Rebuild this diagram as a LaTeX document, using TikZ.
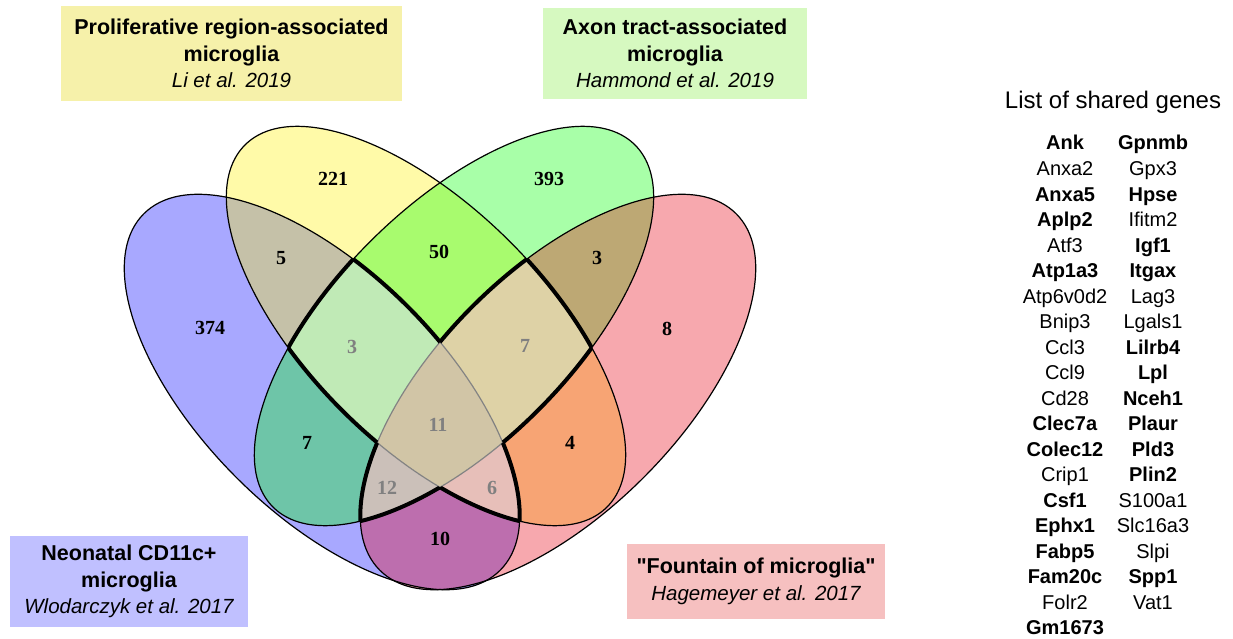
\documentclass[tikz,border=0pt]{standalone}
\usepackage{fontspec}
\setmainfont{Liberation Serif}
\setsansfont{Liberation Sans}

\definecolor{boxyellow}{RGB}{246,241,170}
\definecolor{boxgreen}{RGB}{214,249,192}
\definecolor{boxblue}{RGB}{192,192,255}
\definecolor{boxpink}{RGB}{246,192,192}
\definecolor{setred}{RGB}{232,0,18}

% one ellipse per data set (units are pixels)
\newcommand\ellBlue{[rotate around={-45:(322,392)}] (322,392) ellipse [x radius=252, y radius=121]}
\newcommand\ellYellow{[rotate around={-45:(426,326)}] (426,326) ellipse [x radius=256, y radius=119]}
\newcommand\ellGreen{[rotate around={45:(454,326)}] (454,326) ellipse [x radius=256, y radius=119]}
\newcommand\ellRed{[rotate around={45:(558,392)}] (558,392) ellipse [x radius=252, y radius=121]}
% big frame, turning the other way, to clip the outside of a set
\newcommand\outside{(-2000,-2000) rectangle (3000,3000)}

\begin{document}
\begin{tikzpicture}[
            x = 1pt, y = -1pt, % one unit per pixel, y down
            num/.style = {font = \bfseries\fontsize{20}{20}\selectfont},
            title/.style = {align = center, inner sep = 0pt,
                font = \sffamily\fontsize{21.5}{26.5}\selectfont},
            gene/.style = {anchor = base, inner sep = 0pt,
                font = \sffamily\fontsize{20}{20}\selectfont}
        ]

        \useasboundingbox[fill = white] (0,0) rectangle (1233,639);

        % the four sets
        \fill[blue, fill opacity = .34] \ellBlue;
        \fill[yellow, fill opacity = .34] \ellYellow;
        \fill[green, fill opacity = .34] \ellGreen;
        \fill[setred, fill opacity = .34] \ellRed;
        \foreach \e in {\ellBlue, \ellYellow, \ellGreen, \ellRed}
            \draw[line width = 1.2pt] \e;

        % counts
        \node[num] (n374) at (210,328) {374};
        \node[num] (n221) at (333,179) {221};
        \node[num] (n393) at (549,179) {393};
        \node[num] (n8) at (667,329) {8};
        \node[num] (n5) at (281,258) {5};
        \node[num] (n50) at (439,252) {50};
        \node[num] (n3cd) at (597,258) {3};
        \node[num] (n3abc) at (352,347) {3};
        \node[num] (n7bcd) at (525,346) {7};
        \node[num] (n11) at (438,425) {11};
        \node[num] (n7ac) at (307,443) {7};
        \node[num] (n4) at (570,443) {4};
        \node[num] (n12) at (387,488) {12};
        \node[num] (n6) at (492,488) {6};
        \node[num] (n10) at (440,539) {10};

        % genes shared by three or more sets: washed out
        \foreach \ta/\tb/\tc/\td in {\ellBlue/\ellYellow/\ellGreen/\ellRed,
                \ellBlue/\ellYellow/\ellRed/\ellGreen,
                \ellBlue/\ellGreen/\ellRed/\ellYellow,
                \ellYellow/\ellGreen/\ellRed/\ellBlue}
        {
            \begin{scope}
                \clip \ta; \clip \tb; \clip \tc;
                \clip \outside \td;
                \fill[white, fill opacity = .5] (0,0) rectangle (880,639);
            \end{scope}
        }
        \begin{scope}
            \clip \ellBlue; \clip \ellYellow; \clip \ellGreen;
            \fill[white, fill opacity = .5] \ellRed;
        \end{scope}

        % ... and outlined
        \foreach \ta/\tb/\tc/\td in {\ellBlue/\ellYellow/\ellGreen/\ellRed,
                \ellBlue/\ellYellow/\ellRed/\ellGreen,
                \ellBlue/\ellGreen/\ellRed/\ellYellow,
                \ellYellow/\ellBlue/\ellGreen/\ellRed,
                \ellYellow/\ellBlue/\ellRed/\ellGreen,
                \ellYellow/\ellGreen/\ellRed/\ellBlue,
                \ellGreen/\ellBlue/\ellYellow/\ellRed,
                \ellGreen/\ellBlue/\ellRed/\ellYellow,
                \ellGreen/\ellYellow/\ellRed/\ellBlue,
                \ellRed/\ellBlue/\ellYellow/\ellGreen,
                \ellRed/\ellBlue/\ellGreen/\ellYellow,
                \ellRed/\ellYellow/\ellGreen/\ellBlue}
        {
            \begin{scope}
                \clip \tb; \clip \tc;
                \clip \outside \td;
                \draw[line width = 4pt] \ta;
            \end{scope}
        }

        % set names
        \node[title, fill = boxyellow, minimum width = 341pt, minimum height = 95pt]
            (tyellow) at (231.5,53.5)
            {\textbf{Proliferative region-associated}\\\textbf{microglia}\\
             {\fontsize{20.5}{26.5}\selectfont\itshape Li et al. 2019}};
        \node[title, fill = boxgreen, minimum width = 264pt, minimum height = 91pt]
            (tgreen) at (675,53.5)
            {\textbf{Axon tract-associated}\\\textbf{microglia}\\
             {\fontsize{20.5}{26.5}\selectfont\itshape Hammond et al. 2019}};
        \node[title, fill = boxblue, minimum width = 238pt, minimum height = 91pt]
            (tblue) at (129,581.5)
            {\textbf{Neonatal CD11c+}\\\textbf{microglia}\\
             {\fontsize{20.5}{26.5}\selectfont\itshape Wlodarczyk et al. 2017}};
        \node[title, fill = boxpink, minimum width = 258pt, minimum height = 75pt]
            (tred) at (756,581.5)
            {\textbf{\textquotedbl Fountain of microglia\textquotedbl}\\
             {\fontsize{20.5}{26.5}\selectfont\itshape Hagemeyer et al. 2017}};

        % list of shared genes
        \node[font = \sffamily\fontsize{24}{24}\selectfont] (head) at (1113,102) {List of shared genes};
        \foreach \g [count = \i from 0] in {\textbf{Ank}, Anxa2, \textbf{Anxa5},
                \textbf{Aplp2}, Atf3, \textbf{Atp1a3}, Atp6v0d2, Bnip3, Ccl3, Ccl9,
                Cd28, \textbf{Clec7a}, \textbf{Colec12}, Crip1, \textbf{Csf1},
                \textbf{Ephx1}, \textbf{Fabp5}, \textbf{Fam20c}, Folr2, \textbf{Gm1673}}
            \node[gene] (gl\i) at (1065,150 + 25.5*\i) {\g};
        \foreach \g [count = \i from 0] in {\textbf{Gpnmb}, Gpx3, \textbf{Hpse},
                Ifitm2, \textbf{Igf1}, \textbf{Itgax}, Lag3, Lgals1, \textbf{Lilrb4},
                \textbf{Lpl}, \textbf{Nceh1}, \textbf{Plaur}, \textbf{Pld3},
                \textbf{Plin2}, S100a1, Slc16a3, Slpi, \textbf{Spp1}, Vat1}
            \node[gene] (gr\i) at (1153,150 + 25.5*\i) {\g};

\end{tikzpicture}
\end{document}
